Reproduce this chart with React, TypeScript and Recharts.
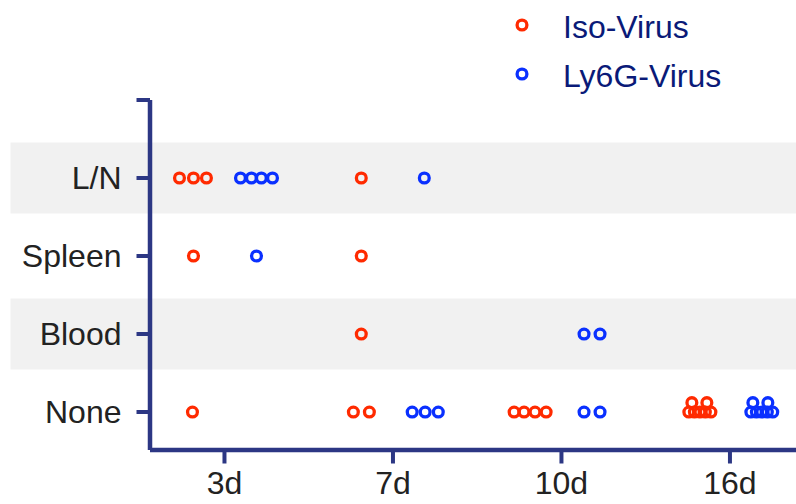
import React from "react";
import { ScatterChart, Scatter, XAxis, YAxis, ReferenceArea, Legend } from "recharts";

const dayLabels = ["3d", "7d", "10d", "16d"];
const tissueLabels = ["None", "Blood", "Spleen", "L/N"];
const seriesNames = ["Iso-Virus", "Ly6G-Virus"];

// x: position on the day axis (0 = 3d, 1 = 7d, ...), y: tissue row (0 = None ... 3 = L/N)
const isoVirus = [
  { x: -0.267, y: 3 }, { x: -0.184, y: 3 }, { x: -0.107, y: 3 }, { x: 0.812, y: 3 },
  { x: -0.184, y: 2 }, { x: 0.812, y: 2 },
  { x: 0.812, y: 1 },
  { x: -0.19, y: 0 }, { x: 0.765, y: 0 }, { x: 0.86, y: 0 },
  { x: 1.719, y: 0 }, { x: 1.778, y: 0 }, { x: 1.843, y: 0 }, { x: 1.909, y: 0 },
  { x: 2.774, y: 0.12 }, { x: 2.863, y: 0.12 },
  { x: 2.756, y: 0 }, { x: 2.789, y: 0 }, { x: 2.822, y: 0 }, { x: 2.854, y: 0 }, { x: 2.887, y: 0 },
];

const ly6gVirus = [
  { x: 0.095, y: 3 }, { x: 0.16, y: 3 }, { x: 0.219, y: 3 }, { x: 0.285, y: 3 }, { x: 1.186, y: 3 },
  { x: 0.19, y: 2 },
  { x: 2.134, y: 1 }, { x: 2.229, y: 1 },
  { x: 1.114, y: 0 }, { x: 1.191, y: 0 }, { x: 1.269, y: 0 },
  { x: 2.134, y: 0 }, { x: 2.229, y: 0 },
  { x: 3.136, y: 0.12 }, { x: 3.225, y: 0.12 },
  { x: 3.124, y: 0 }, { x: 3.157, y: 0 }, { x: 3.189, y: 0 }, { x: 3.222, y: 0 }, { x: 3.254, y: 0 },
];

const shadedRows = [1, 3];

const RED = "#ff2a00";
const BLUE = "#0a30ff";
const NAVY = "#2c3784";
const FONT = "'Liberation Sans', Arial, Helvetica, sans-serif";

const ring = (color: string) => (props: any) => (
  <circle cx={props.cx} cy={props.cy} r={4.9} fill="none" stroke={color} strokeWidth={3.3} />
);

const LegendContent = (props: any) => {
  const items = props.payload || [];
  return (
    <svg width={796} height={100} style={{ overflow: "visible" }}>
      {items.map((it: any, i: number) => (
        <g key={i}>
          <circle cx={522} cy={25 + i * 49} r={4.9} fill="none" stroke={it.color} strokeWidth={3.3} />
          <text x={563} y={38 + i * 49} fontSize={32} fill="#0a1a78" fontFamily={FONT}>
            {it.value}
          </text>
        </g>
      ))}
    </svg>
  );
};

export default function App() {
  return (
    <div style={{ position: "absolute", left: 0, top: 0, width: 796, height: 504, background: "#fff" }}>
      <ScatterChart
        width={796}
        height={504}
        margin={{ top: 100, right: 0, left: 0, bottom: 0 }}
        style={{ fontFamily: FONT }}
      >
        {shadedRows.map((r) => (
          <ReferenceArea
            key={r}
            x1={-1.27}
            x2={3.4}
            y1={r - 0.455}
            y2={r + 0.455}
            fill="#f1f1f1"
            fillOpacity={1}
            stroke="none"
            ifOverflow="visible"
          />
        ))}
        <XAxis
          type="number"
          dataKey="x"
          domain={[-0.442, 3.392]}
          ticks={[0, 1, 2, 3]}
          tickFormatter={(v: number) => dayLabels[v] ?? ""}
          allowDataOverflow
          height={54}
          tickSize={13.5}
          tickMargin={8}
          axisLine={{ stroke: NAVY, strokeWidth: 4.5 }}
          tickLine={{ stroke: NAVY, strokeWidth: 4 }}
          tick={{ fontSize: 32, fill: "#222222", fontFamily: FONT }}
          interval={0}
        />
        <YAxis
          type="number"
          dataKey="y"
          domain={[-0.487, 4]}
          ticks={[0, 1, 2, 3, 4]}
          tickFormatter={(v: number) => tissueLabels[v] ?? ""}
          allowDataOverflow
          width={150}
          tickSize={13.5}
          tickMargin={15}
          axisLine={{ stroke: NAVY, strokeWidth: 4.5 }}
          tickLine={{ stroke: NAVY, strokeWidth: 4 }}
          tick={{ fontSize: 32, fill: "#222222", fontFamily: FONT }}
          interval={0}
        />
        <Legend
          layout="vertical"
          align="center"
          verticalAlign="middle"
          wrapperStyle={{ top: 0, left: 0, width: 796, height: 100 }}
          content={<LegendContent />}
        />
        <Scatter name={seriesNames[0]} data={isoVirus} fill={RED} stroke={RED} shape={ring(RED)} isAnimationActive={false} legendType="circle" />
        <Scatter name={seriesNames[1]} data={ly6gVirus} fill={BLUE} stroke={BLUE} shape={ring(BLUE)} isAnimationActive={false} legendType="circle" />
      </ScatterChart>
    </div>
  );
}
